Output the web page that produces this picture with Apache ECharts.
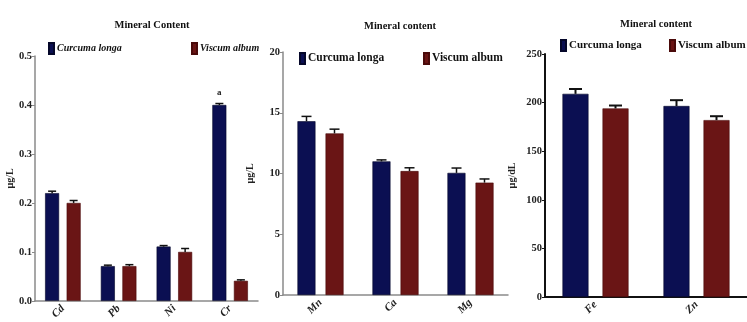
<!DOCTYPE html>
<html>
<head>
<meta charset="utf-8">
<script src="https://cdn.jsdelivr.net/npm/echarts@6/dist/echarts.min.js"></script>
<style>
  html, body { margin: 0; padding: 0; background: #fff; }
  #chart { width: 747px; height: 322px; }
</style>
</head>
<body>
<div id="chart"></div>
<script>
// Trace elements (µg/L)
const traceCats = ['Cd', 'Pb', 'Ni', 'Cr'];
const traceCurcuma = [0.22, 0.071, 0.111, 0.40];
const traceCurcumaErr = [0.004, 0.002, 0.002, 0.003];
const traceViscum = [0.20, 0.071, 0.10, 0.041];
const traceViscumErr = [0.005, 0.003, 0.007, 0.002];
const traceTicks = [0, 0.1, 0.2, 0.3, 0.4, 0.5];

// Macro elements (µg/L)
const macroCats = ['Mn', 'Ca', 'Mg'];
const macroCurcuma = [14.3, 11.0, 10.05];
const macroCurcumaErr = [0.4, 0.12, 0.4];
const macroViscum = [13.3, 10.2, 9.25];
const macroViscumErr = [0.35, 0.27, 0.3];
const macroTicks = [0, 5, 10, 15, 20];

// Fe / Zn (µg/dL)
const majorCats = ['Fe', 'Zn'];
const majorCurcuma = [209, 196.5];
const majorCurcumaErr = [5, 6];
const majorViscum = [194, 182];
const majorViscumErr = [3, 4];
const majorTicks = [0, 50, 100, 150, 200, 250];

const seriesNames = ['Curcuma longa', 'Viscum album'];
const BLUE = '#0b0f52';
const RED = '#6a1515';
const SERIF = '"Liberation Serif", "Times New Roman", serif';

const chart = echarts.init(document.getElementById('chart'), null, { renderer: 'canvas' });

// Panel geometry: grid box, bar width and gap between the paired bars
const panels = [
  { left: 35, top: 56, width: 223, height: 245, bw: 14, gap: 7.5, cats: traceCats,
    a: traceCurcuma, aErr: traceCurcumaErr, b: traceViscum, bErr: traceViscumErr,
    ticks: traceTicks, unit: 'µg/L', nameGap: 20, axisColor: '#8a8a8a', axisW: 1.5, capW: 8,
    fmt: v => v.toFixed(1) },
  { left: 283, top: 52, width: 225, height: 243, bw: 18, gap: 10, cats: macroCats,
    a: macroCurcuma, aErr: macroCurcumaErr, b: macroViscum, bErr: macroViscumErr,
    ticks: macroTicks, unit: 'µg/L', nameGap: 28, axisColor: '#8a8a8a', axisW: 1.5, capW: 10,
    fmt: v => String(v) },
  { left: 545, top: 54, width: 211, height: 243, bw: 26, gap: 14, cats: majorCats,
    a: majorCurcuma, aErr: majorCurcumaErr, b: majorViscum, bErr: majorViscumErr,
    ticks: majorTicks, unit: 'µg/dL', nameGap: 28, axisColor: '#111', axisW: 2, capW: 13,
    fmt: v => String(v) }
];

const grids = [], xAxes = [], yAxes = [], series = [];

function errorSeries(idx, values, errs, offset, capW, lw) {
  return {
    type: 'custom',
    xAxisIndex: idx, yAxisIndex: idx,
    silent: true, z: 5,
    data: values.map((v, i) => [i, v, v + errs[i]]),
    renderItem: function (params, api) {
      const base = api.coord([api.value(0), api.value(1)]);
      const top = api.coord([api.value(0), api.value(2)]);
      const x = base[0] + offset;
      return {
        type: 'group',
        children: [
          { type: 'line', shape: { x1: x, y1: base[1], x2: x, y2: top[1] },
            style: { stroke: '#111', lineWidth: lw } },
          { type: 'line', shape: { x1: x - capW / 2, y1: top[1], x2: x + capW / 2, y2: top[1] },
            style: { stroke: '#111', lineWidth: lw } }
        ]
      };
    }
  };
}

panels.forEach((p, idx) => {
  const ticks = p.ticks;
  const interval = ticks[1] - ticks[0];
  grids.push({ left: p.left, top: p.top, width: p.width, height: p.height, containLabel: false });
  xAxes.push({
    type: 'category', gridIndex: idx, data: p.cats,
    axisLine: { lineStyle: { color: p.axisColor, width: p.axisW } },
    axisTick: { alignWithLabel: true, length: 3, lineStyle: { color: p.axisColor, width: 1 } },
    axisLabel: { rotate: 45, margin: 6, fontFamily: SERIF, fontStyle: 'italic', fontWeight: 'bold',
                 fontSize: 11, color: '#222' }
  });
  yAxes.push({
    type: 'value', gridIndex: idx, min: ticks[0], max: ticks[ticks.length - 1], interval: interval,
    name: p.unit, nameLocation: 'middle', nameGap: p.nameGap, nameRotate: 90,
    nameTextStyle: { fontFamily: SERIF, fontWeight: 'bold', fontSize: 10, color: '#222' },
    splitLine: { show: false },
    axisLine: { show: true, lineStyle: { color: p.axisColor, width: p.axisW } },
    axisTick: { show: true, length: 3, lineStyle: { color: p.axisColor } },
    axisLabel: { margin: 3, fontFamily: SERIF, fontWeight: 'bold', fontSize: 10.5, color: '#222',
                 formatter: p.fmt }
  });

  const barGap = (p.gap / p.bw * 100).toFixed(0) + '%';
  const aData = p.a.map((v, i) => v);
  if (idx === 0) {
    // significance mark on the Cr bar
    aData[3] = { value: p.a[3], label: { show: true, formatter: 'a', position: 'top', distance: 8,
                 fontFamily: SERIF, fontWeight: 'bold', fontSize: 9, color: '#222' } };
  }
  series.push({
    name: seriesNames[0], type: 'bar', xAxisIndex: idx, yAxisIndex: idx,
    barWidth: p.bw, barGap: barGap, data: aData,
    itemStyle: { color: BLUE, borderColor: '#05072a', borderWidth: 0.6 }
  });
  series.push({
    name: seriesNames[1], type: 'bar', xAxisIndex: idx, yAxisIndex: idx,
    barWidth: p.bw, barGap: barGap, data: p.b,
    itemStyle: { color: RED, borderColor: '#4a0a0a', borderWidth: 0.6 }
  });
  const off = (p.bw + p.gap) / 2;
  series.push(errorSeries(idx, p.a, p.aErr, -off, p.capW, idx === 2 ? 2 : 1.5));
  series.push(errorSeries(idx, p.b, p.bErr, off, p.capW, idx === 2 ? 2 : 1.5));
});

const titleStyle = { fontFamily: SERIF, fontWeight: 'bold', fontSize: 10.5, color: '#111' };
const titles = [
  { text: 'Mineral Content', left: 147, top: 15, textAlign: 'center', textStyle: titleStyle },
  { text: 'Mineral content', left: 395, top: 16, textAlign: 'center', textStyle: titleStyle },
  { text: 'Mineral content', left: 651, top: 14, textAlign: 'center', textStyle: titleStyle }
];

function legendItem(name, left, top, color, italic, size) {
  return {
    data: [{ name: name, itemStyle: { color: color } }],
    left: left, top: top, icon: 'rect', itemWidth: 5, itemHeight: 11, itemGap: 0,
    selectedMode: false,
    textStyle: { fontFamily: SERIF, fontWeight: 'bold', fontStyle: italic ? 'italic' : 'normal',
                 fontSize: size, color: '#111', padding: [0, 0, 0, -2] }
  };
}

const legends = [
  legendItem(seriesNames[0], 43, 37, BLUE, true, 10),
  legendItem(seriesNames[1], 186, 37, RED, true, 10),
  legendItem(seriesNames[0], 294, 47, BLUE, false, 11.5),
  legendItem(seriesNames[1], 418, 47, RED, false, 11.5),
  legendItem(seriesNames[0], 555, 34, BLUE, false, 11),
  legendItem(seriesNames[1], 664, 34, RED, false, 11)
];

chart.setOption({
  animation: false,
  backgroundColor: '#fff',
  title: titles,
  legend: legends,
  grid: grids,
  xAxis: xAxes,
  yAxis: yAxes,
  series: series
});
</script>
</body>
</html>
